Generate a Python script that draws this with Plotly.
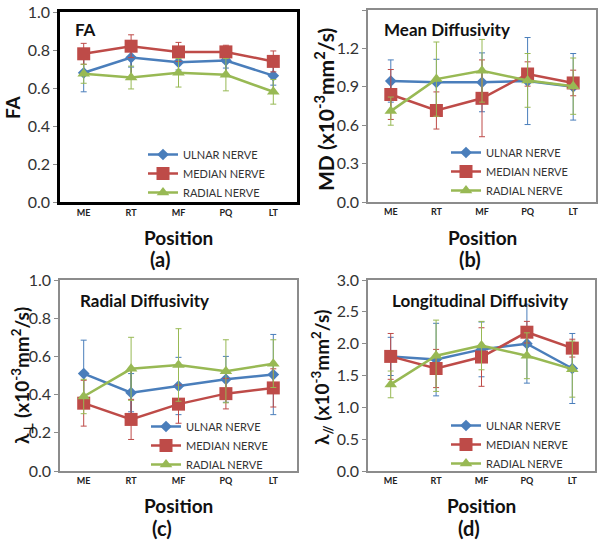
import plotly.graph_objects as go

positions = ["ME", "RT", "MF", "PQ", "LT"]
nerves = ["ULNAR NERVE", "MEDIAN NERVE", "RADIAL NERVE"]

fa_ulnar = [0.68, 0.76, 0.735, 0.745, 0.665]
fa_ulnar_err = [0.10, 0.05, 0.04, 0.04, 0.05]
fa_median = [0.78, 0.82, 0.79, 0.79, 0.74]
fa_median_err = [0.055, 0.06, 0.05, 0.035, 0.055]
fa_radial = [0.675, 0.655, 0.68, 0.67, 0.58]
fa_radial_err = [0.05, 0.06, 0.075, 0.085, 0.065]

md_ulnar = [0.945, 0.935, 0.935, 0.945, 0.90]
md_ulnar_err = [0.165, 0.18, 0.23, 0.34, 0.26]
md_median = [0.84, 0.715, 0.81, 1.0, 0.93]
md_median_err = [0.195, 0.145, 0.30, 0.095, 0.10]
md_radial = [0.71, 0.96, 1.025, 0.95, 0.905]
md_radial_err = [0.11, 0.29, 0.245, 0.21, 0.22]

rd_ulnar = [0.51, 0.41, 0.445, 0.48, 0.505]
rd_ulnar_err = [0.175, 0.10, 0.15, 0.12, 0.21]
rd_median = [0.355, 0.27, 0.35, 0.405, 0.435]
rd_median_err = [0.12, 0.105, 0.10, 0.08, 0.10]
rd_radial = [0.39, 0.535, 0.555, 0.522, 0.562]
rd_radial_err = [0.09, 0.165, 0.19, 0.165, 0.125]

ld_ulnar = [1.80, 1.75, 1.91, 2.00, 1.61]
ld_ulnar_err = [0.30, 0.57, 0.43, 0.62, 0.55]
ld_median = [1.80, 1.61, 1.79, 2.18, 1.93]
ld_median_err = [0.36, 0.30, 0.46, 0.17, 0.14]
ld_radial = [1.36, 1.81, 1.97, 1.81, 1.60]
ld_radial_err = [0.21, 0.56, 0.38, 0.36, 0.44]

fa_ticks = [0.0, 0.2, 0.4, 0.6, 0.8, 1.0]
md_ticks = [0.0, 0.3, 0.6, 0.9, 1.2, 1.5]
rd_ticks = [0.0, 0.2, 0.4, 0.6, 0.8, 1.0]
ld_ticks = [0.0, 0.5, 1.0, 1.5, 2.0, 2.5, 3.0]

colors = ["#4A7EBB", "#BE4B48", "#98B954"]
symbols = ["diamond", "square", "triangle-up"]
msizes = [9, 13, 11]

W, H = 602, 548
FONT = "Lato, 'Noto Sans', sans-serif"

def px_x(p):
    return p / W

def px_y(p):
    return 1 - p / H

panels = [
    dict(ax="", xd=(60, 297), yd=(12, 202), ticks=fa_ticks,
         data=[(fa_ulnar, fa_ulnar_err), (fa_median, fa_median_err), (fa_radial, fa_radial_err)],
         title="FA", tpos=(73, 30), ytitle="FA", ytsize=19, ytpos=(12, 107),
         leg=(143, 140), lab="(a)", labx=160, posy=237, laby=259, box="black", bw=2.5),
    dict(ax="2", xd=(368, 596), yd=(10, 202), ticks=md_ticks,
         data=[(md_ulnar, md_ulnar_err), (md_median, md_median_err), (md_radial, md_radial_err)],
         title="Mean Diffusivity", tpos=(382, 30), ytitle="MD (x10<sup>-3</sup>mm<sup>2</sup>/s)", ytsize=21,
         ytpos=(324, 110),
         leg=(446, 138), lab="(b)", labx=470, posy=237, laby=259, box="#8C8C8C", bw=1.5),
    dict(ax="3", xd=(60, 297), yd=(280, 471), ticks=rd_ticks,
         data=[(rd_ulnar, rd_ulnar_err), (rd_median, rd_median_err), (rd_radial, rd_radial_err)],
         title="Radial Diffusivity", tpos=(78, 300), ytitle="λ<sub>⊥</sub> (x10<sup>-3</sup>mm<sup>2</sup>/s)",
         ytsize=19, ytpos=(22, 376),
         leg=(146, 412), lab="(c)", labx=162, posy=505, laby=528, box="#8C8C8C", bw=1.5),
    dict(ax="4", xd=(368, 595), yd=(280, 471), ticks=ld_ticks,
         data=[(ld_ulnar, ld_ulnar_err), (ld_median, ld_median_err), (ld_radial, ld_radial_err)],
         title="Longitudinal Diffusivity", tpos=(390, 300), ytitle="λ<sub>//</sub> (x10<sup>-3</sup>mm<sup>2</sup>/s)",
         ytsize=19, ytpos=(322, 377),
         leg=(446, 411), lab="(d)", labx=469, posy=505, laby=528, box="#8C8C8C", bw=1.5),
]

fig = go.Figure()
annotations = []
layout = {}
xs = list(range(len(positions)))

for i, p in enumerate(panels):
    ax = p["ax"]
    legname = "legend" if ax == "" else "legend" + ax
    # high-low lines (Excel style) connecting the series at each position
    hx, hy = [], []
    for j in xs:
        col = [p["data"][k][0][j] for k in range(3)]
        hx += [j, j, None]
        hy += [min(col), max(col), None]
    fig.add_trace(go.Scatter(x=hx, y=hy, mode="lines", xaxis="x" + ax, yaxis="y" + ax,
                             line=dict(color="black", width=1), showlegend=False, hoverinfo="skip"))
    for k, (vals, errs) in enumerate(p["data"]):
        fig.add_trace(go.Scatter(
            x=xs, y=vals, name=nerves[k], mode="lines+markers",
            xaxis="x" + ax, yaxis="y" + ax, legend=legname,
            line=dict(color=colors[k], width=2.5),
            marker=dict(symbol=symbols[k], size=msizes[k], color=colors[k]),
            error_y=dict(type="data", array=errs, visible=True, color=colors[k], thickness=1, width=3),
        ))
    tv = p["ticks"]
    layout["xaxis" + ax] = dict(
        domain=[px_x(p["xd"][0]), px_x(p["xd"][1])], anchor="y" + ax,
        range=[-0.5, 4.5], tickmode="array", tickvals=xs, ticktext=["<b>%s</b>" % t for t in positions],
        showline=True, mirror=True, linecolor=p["box"], linewidth=p["bw"],
        showgrid=False, zeroline=False, ticks="", automargin=False,
        tickfont=dict(family=FONT, size=9, color="#222"),
    )
    layout["yaxis" + ax] = dict(
        domain=[px_y(p["yd"][1]), px_y(p["yd"][0])], anchor="x" + ax,
        range=[tv[0], tv[-1]], tickmode="array", tickvals=tv, ticktext=["%.1f" % t for t in tv],
        showline=True, mirror=True, linecolor=p["box"], linewidth=p["bw"],
        showgrid=False, zeroline=False, ticks="outside", ticklen=4, tickcolor="#8C8C8C",
        automargin=False,
        tickfont=dict(family=FONT, size=16, color="#333"),
    )
    layout[legname] = dict(
        x=px_x(p["leg"][0]), y=px_y(p["leg"][1]), xanchor="left", yanchor="top",
        bgcolor="rgba(0,0,0,0)", font=dict(family=FONT, size=11, color="#333"),
        tracegroupgap=0, itemwidth=30,
    )
    annotations.append(dict(text="<b>%s</b>" % p["title"], x=px_x(p["tpos"][0]), y=px_y(p["tpos"][1]),
                            xref="paper", yref="paper", xanchor="left", yanchor="middle",
                            showarrow=False, font=dict(family=FONT, size=17, color="#111")))
    annotations.append(dict(text="<b>%s</b>" % p["ytitle"], x=px_x(p["ytpos"][0]), y=px_y(p["ytpos"][1]),
                            xref="paper", yref="paper", xanchor="center", yanchor="middle", textangle=-90,
                            showarrow=False, font=dict(family=FONT, size=p["ytsize"], color="#111")))
    xc = (p["xd"][0] + p["xd"][1]) / 2
    annotations.append(dict(text="<b>Position</b>", x=px_x(xc), y=px_y(p["posy"]),
                            xref="paper", yref="paper", xanchor="center", yanchor="middle",
                            showarrow=False, font=dict(family=FONT, size=19, color="#111")))
    annotations.append(dict(text="<b>%s</b>" % p["lab"], x=px_x(p["labx"]), y=px_y(p["laby"]),
                            xref="paper", yref="paper", xanchor="center", yanchor="middle",
                            showarrow=False, font=dict(family=FONT, size=20, color="#111")))

fig.update_layout(
    width=W, height=H, margin=dict(l=0, r=0, t=0, b=0, autoexpand=False),
    paper_bgcolor="white", plot_bgcolor="white",
    showlegend=True, annotations=annotations, **layout,
)

fig.write_html("out.html", config={"displayModeBar": False},
               post_script="document.body.style.margin='0px';document.body.style.overflow='hidden';")
